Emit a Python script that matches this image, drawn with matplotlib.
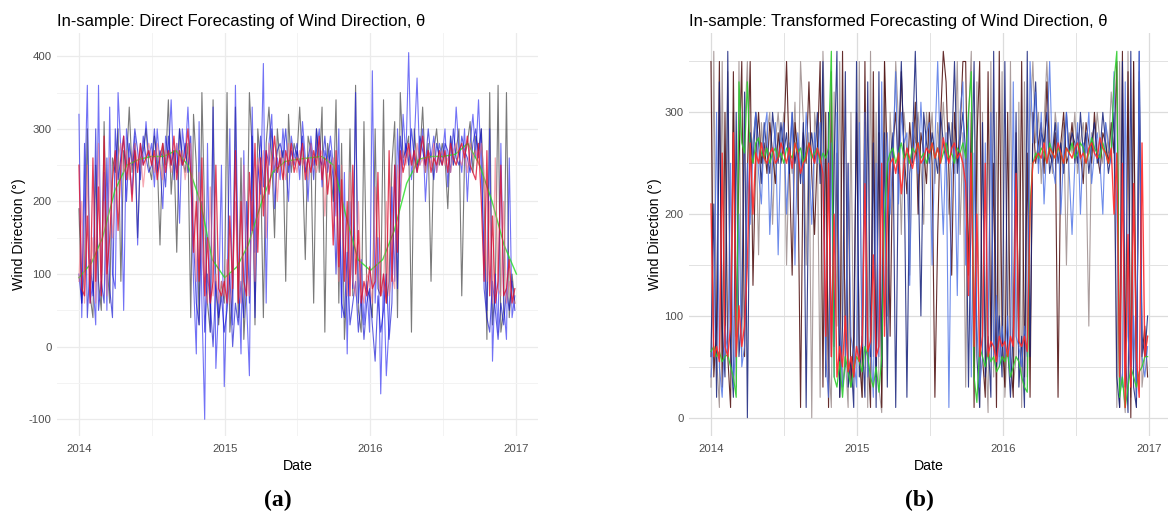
import pandas as pd
import matplotlib
matplotlib.use("Agg")
import matplotlib.pyplot as plt

plt.rcParams['font.family'] = ['Liberation Sans', 'DejaVu Sans']
plt.rcParams['axes.unicode_minus'] = False

## time index: weekly observations 2014-2016, monthly for the smooth seasonal curve
weeks = pd.date_range('2014-01-01', periods=157, freq='7D')
months = pd.date_range('2014-01-01', periods=37, freq='MS')
year_ticks = pd.to_datetime(['2014-01-01', '2015-01-01', '2016-01-01', '2017-01-01'])
year_labels = ['2014', '2015', '2016', '2017']
half_years = pd.to_datetime(['2014-07-02', '2015-07-02', '2016-07-02'])

## ---------------- panel (a): direct forecasting ----------------
obs_a = [190, 60, 110, 300, 70, 40, 250, 90, 50, 310, 120, 60, 260,
         240, 300, 90, 270, 250, 330, 240, 280, 150, 260, 270, 300, 250,
         230, 290, 260, 140, 280, 250, 340, 210, 270, 130, 300, 260, 240,
         280, 40, 320, 250, 30, 350, 180, 60, 20, 340, 80, 30, 90,
         60, 350, 20, 80, 330, 40, 260, 10, 90, 350, 270, 30, 300,
         250, 40, 280, 330, 260, 150, 300, 250, 270, 90, 320, 240, 280,
         260, 330, 250, 120, 290, 270, 60, 300, 240, 330, 20, 280, 250,
         200, 340, 60, 280, 10, 90, 300, 70, 360, 50, 20, 310, 80,
         70, 40, 300, 80, 70, 340, 60, 90, 250, 310, 40, 350, 260,
         270, 290, 20, 300, 250, 260, 330, 240, 280, 90, 270, 300, 250,
         280, 260, 190, 290, 250, 270, 300, 70, 260, 280, 310, 240, 290,
         270, 300, 210, 10, 350, 30, 80, 360, 20, 50, 350, 40, 100,
         60]

blue_a = [320, 40, 200, 360, 60, 90, 30, 360, 80, 240, 50, 330, 100,
          80, 350, 270, 50, 300, 260, 210, 290, 140, 280, 250, 310, 260,
          280, 220, 300, 250, 190, 290, 260, 340, 230, 280, 170, 300, 260,
          330, 240, 90, -10, 310, 60, -100, 280, 20, 330, -30, 60, 250,
          -55, 80, 300, 30, 360, 110, -10, 270, 60, -40, 330, 130, 250,
          210, 390, 60, 280, 320, 190, 260, 230, 300, 250, 200, 290, 260,
          280, 230, 310, 260, 200, 290, 250, 270, 300, 220, 270, 250, 290,
          250, 180, 300, 40, 240, -10, 200, 80, 350, 60, 120, 30, 90,
          20, 380, 60, 150, -65, 100, -40, 30, 220, 90, 300, 200, 320,
          260, 405, 230, 280, 370, 250, 300, 200, 270, 260, 290, 240, 280,
          260, 300, 220, 290, 250, 330, 270, 240, 300, 200, 280, 320, 260,
          340, 240, 130, 50, 300, -20, 100, 20, 280, 60, 10, 260, 40,
          70]

blue2_a = [100, 60, 280, 40, 120, 70, 300, 50, 90, 60, 260, 80, 40,
           300, 230, 260, 290, 200, 280, 250, 300, 270, 230, 290, 260, 240,
           250, 300, 240, 270, 260, 220, 290, 250, 270, 240, 300, 250, 280,
           240, 290, 150, 60, 30, 200, 20, 100, 60, 0, 90, 40, 70,
           20, 50, 100, 0, 60, 30, 90, 40, 200, 60, 290, 40, 230,
           290, 220, 270, 250, 300, 240, 270, 280, 260, 300, 240, 270, 250,
           270, 250, 290, 240, 260, 280, 230, 300, 260, 250, 290, 240, 270,
           230, 100, 250, 60, 40, 130, 30, 60, 90, 20, 70, 10, 60,
           80, 30, -20, 70, 20, 50, 100, 10, 60, 250, 80, 290, 250,
           280, 250, 300, 260, 240, 290, 270, 250, 300, 260, 230, 280, 260,
           250, 280, 270, 240, 300, 260, 250, 290, 270, 260, 240, 280, 300,
           260, 300, 80, 40, 20, 90, 50, 10, 60, 30, 80, 50, 90,
           50]

red_a = [250, 80, 70, 180, 60, 260, 90, 220, 70, 290, 100, 150, 230,
         270, 160, 250, 290, 230, 260, 200, 270, 240, 280, 250, 260, 270,
         250, 270, 230, 260, 280, 240, 270, 250, 290, 230, 270, 250, 260,
         300, 240, 130, 200, 90, 260, 70, 150, 60, 90, 250, 80, 70,
         90, 60, 180, 80, 270, 60, 200, 90, 70, 240, 160, 280, 130,
         260, 180, 270, 210, 250, 290, 240, 260, 230, 270, 250, 280, 240,
         260, 250, 280, 230, 260, 240, 270, 250, 290, 230, 260, 210, 250,
         140, 270, 110, 230, 90, 200, 70, 250, 100, 160, 60, 90, 70,
         110, 80, 90, 240, 70, 100, 60, 270, 90, 250, 130, 270, 240,
         260, 280, 250, 270, 240, 260, 290, 250, 270, 240, 260, 250, 270,
         250, 270, 240, 280, 260, 250, 270, 280, 260, 290, 250, 240, 230,
         280, 200, 90, 270, 70, 180, 60, 90, 250, 70, 80, 120, 60,
         80]

pink_a = [90, 200, 60, 250, 80, 150, 60, 280, 100, 200, 70, 260, 150,
          200, 260, 280, 240, 270, 230, 260, 280, 250, 270, 220, 260, 280,
          260, 240, 280, 250, 230, 270, 260, 240, 260, 280, 250, 270, 230,
          260, 280, 200, 90, 240, 130, 80, 60, 220, 70, 100, 60, 90,
          70, 120, 60, 90, 200, 80, 60, 250, 110, 70, 200, 90, 260,
          230, 270, 150, 280, 240, 260, 200, 270, 250, 230, 280, 250, 260,
          240, 270, 250, 260, 230, 280, 250, 240, 260, 270, 180, 260, 240,
          260, 200, 90, 250, 130, 70, 240, 90, 70, 200, 80, 60, 100,
          90, 60, 220, 100, 70, 80, 200, 70, 100, 80, 250, 200, 270,
          250, 270, 260, 240, 280, 250, 260, 240, 270, 250, 280, 240, 260,
          270, 250, 260, 240, 270, 280, 260, 250, 270, 240, 280, 260, 270,
          250, 280, 240, 90, 200, 60, 260, 80, 70, 200, 60, 90, 70,
          60]

green_a = [95, 115, 150, 215, 250, 258, 262, 262, 270, 250, 200, 120,
           95, 110, 140, 195, 240, 255, 258, 260, 262, 250, 180, 120,
           105, 120, 160, 225, 258, 262, 262, 265, 280, 250, 200, 140,
           100]

## ---------------- panel (b): transformed forecasting ----------------
obs_b = [350, 40, 90, 350, 30, 300, 60, 10, 340, 80, 250, 350, 60,
         240, 350, 130, 260, 300, 250, 270, 240, 290, 260, 230, 280, 250,
         270, 350, 250, 140, 290, 260, 10, 280, 250, 330, 240, 180, 260,
         350, 30, 300, 10, 340, 70, 260, 20, 360, 50, 250, 30, 80,
         300, 60, 20, 350, 70, 10, 340, 40, 280, 10, 350, 250, 80,
         270, 300, 240, 340, 260, 220, 290, 250, 310, 200, 280, 260, 230,
         300, 250, 20, 180, 290, 360, 330, 240, 140, 300, 250, 280, 350,
         350, 140, 300, 10, 270, 350, 60, 20, 340, 70, 250, 10, 360,
         80, 30, 300, 60, 20, 280, 70, 350, 40, 260, 20, 300, 250,
         270, 290, 240, 330, 260, 250, 280, 20, 270, 300, 250, 260, 290,
         250, 280, 260, 230, 290, 270, 250, 300, 260, 240, 280, 270, 250,
         290, 260, 350, 10, 360, 30, 340, 0, 350, 20, 330, 60, 90,
         40]

gray_b = [30, 360, 60, 10, 350, 80, 340, 50, 300, 30, 350, 60, 280,
          350, 200, 270, 300, 160, 290, 250, 280, 300, 190, 270, 300, 260,
          300, 150, 270, 240, 310, 200, 350, 290, 150, 280, 0, 300, 270,
          20, 360, 250, 60, 10, 320, 90, 350, 30, 60, 10, 300, 40,
          70, 350, 20, 290, 10, 360, 60, 300, 30, 5, 350, 100, 300,
          240, 350, 290, 180, 300, 260, 140, 290, 270, 300, 250, 190, 300,
          260, 300, 230, 290, 250, 310, 260, 200, 290, 240, 350, 180, 280,
          30, 290, 360, 50, 330, 10, 300, 80, 5, 350, 40, 300, 60,
          340, 20, 80, 350, 30, 60, 310, 10, 330, 40, 290, 350, 270,
          300, 230, 290, 350, 280, 240, 300, 270, 250, 290, 150, 280, 260,
          300, 240, 270, 290, 250, 90, 280, 260, 300, 270, 250, 290, 260,
          320, 280, 10, 350, 40, 5, 360, 20, 350, 10, 340, 30, 60,
          80]

navy_b = [60, 210, 20, 330, 90, 40, 360, 70, 20, 300, 60, 100, 320,
          0, 280, 250, 300, 270, 230, 290, 260, 240, 300, 270, 250, 290,
          260, 280, 240, 300, 250, 270, 230, 290, 10, 260, 280, 250, 300,
          230, 350, 40, 300, 60, 250, 360, 20, 90, 340, 30, 60, 10,
          350, 40, 80, 20, 330, 60, 270, 10, 340, 50, 280, 30, 250,
          280, 10, 260, 350, 250, 20, 240, 270, 360, 250, 100, 300, 270,
          250, 280, 260, 240, 300, 270, 250, 290, 260, 350, 240, 270, 300,
          260, 30, 220, 350, 60, 10, 290, 40, 80, 20, 360, 50, 100,
          40, 350, 70, 20, 90, 300, 30, 80, 10, 360, 60, 280, 330,
          250, 280, 270, 300, 240, 260, 290, 250, 270, 240, 300, 260, 280,
          270, 250, 300, 260, 280, 240, 270, 290, 250, 260, 300, 270, 240,
          260, 300, 40, 10, 350, 70, 5, 360, 30, 10, 360, 80, 60,
          100]

blue_b = [40, 80, 300, 50, 20, 90, 60, 250, 30, 80, 200, 50, 70,
          250, 190, 270, 300, 240, 210, 280, 300, 180, 250, 290, 160, 270,
          290, 200, 260, 300, 150, 280, 250, 230, 300, 260, 190, 280, 250,
          290, 230, 60, 20, 270, 40, 300, 90, 30, 50, 250, 80, 60,
          30, 290, 70, 300, 40, 80, 20, 250, 60, 330, 90, 280, 200,
          260, 340, 210, 300, 270, 280, 130, 290, 260, 240, 310, 250, 280,
          290, 150, 270, 350, 250, 180, 280, 10, 240, 270, 120, 300, 330,
          150, 300, 40, 260, 90, 30, 60, 270, 80, 300, 60, 120, 50,
          90, 60, 100, 40, 330, 80, 70, 50, 90, 60, 350, 270, 320,
          240, 300, 210, 270, 350, 250, 230, 290, 200, 260, 300, 240, 180,
          250, 290, 200, 270, 260, 300, 230, 260, 280, 250, 200, 290, 270,
          250, 340, 200, 50, 30, 330, 80, 40, 100, 20, 360, 60, 40,
          70]

red_b = [210, 60, 70, 55, 260, 70, 60, 90, 280, 60, 110, 70, 90,
         150, 270, 200, 260, 250, 270, 255, 250, 260, 265, 250, 255, 270,
         260, 250, 265, 245, 270, 260, 240, 250, 255, 270, 260, 250, 265,
         255, 240, 80, 250, 60, 200, 40, 70, 50, 100, 45, 60, 40,
         70, 55, 75, 230, 65, 75, 160, 60, 70, 250, 80, 200, 250,
         255, 240, 260, 220, 250, 265, 255, 245, 260, 270, 250, 255, 265,
         260, 270, 255, 265, 250, 275, 260, 250, 265, 270, 255, 260, 250,
         230, 120, 260, 70, 200, 60, 80, 250, 60, 75, 70, 55, 80,
         70, 75, 60, 80, 70, 240, 75, 70, 80, 65, 200, 250, 255,
         260, 255, 270, 250, 265, 260, 255, 270, 260, 250, 265, 260, 255,
         265, 270, 255, 260, 250, 265, 270, 260, 255, 275, 265, 260, 250,
         265, 200, 260, 40, 250, 10, 180, 30, 230, 60, 20, 270, 60,
         80]

green_b = [65, 70, 60, 65, 55, 60, 62, 50, 40, 20, 330, 270, 260,
           330, 260, 250, 270, 275, 260, 255, 265, 250, 260, 265, 255, 260,
           250, 265, 260, 255, 270, 260, 265, 250, 260, 270, 255, 260, 265,
           250, 260, 255, 265, 360, 40, 30, 55, 20, 60, 45, 30, 50,
           60, 55, 45, 70, 60, 40, 30, 50, 25, 60, 200, 250, 260,
           265, 250, 260, 270, 255, 260, 250, 265, 260, 270, 255, 260, 250,
           260, 270, 255, 265, 250, 260, 270, 255, 260, 250, 265, 260, 270,
           255, 300, 340, 40, 15, 70, 60, 50, 65, 55, 60, 45, 50,
           60, 55, 65, 40, 50, 60, 55, 40, 30, 25, 210, 250, 260,
           255, 265, 260, 250, 270, 260, 255, 265, 260, 250, 265, 260, 270,
           255, 260, 270, 265, 250, 260, 275, 265, 260, 255, 270, 260, 250,
           260, 330, 360, 20, 40, 10, 30, 50, 40, 30, 45, 50, 60,
           60]


def style_panel(ax, title, ylim, major_y, minor_y, xlim, grid_col, minor_col):
    """ggplot theme_minimal look: no spines, no ticks, light major+minor grid."""
    ax.set_xlim(xlim)
    ax.set_ylim(ylim)
    ax.set_xticks(year_ticks)
    ax.set_xticklabels(year_labels)
    ax.set_xticks(half_years, minor=True)
    ax.set_yticks(major_y)
    ax.set_yticks(minor_y, minor=True)
    ax.grid(True, which='major', color=grid_col, linewidth=0.9, zorder=0)
    ax.grid(True, which='minor', color=minor_col, linewidth=0.7, zorder=0)
    ax.set_axisbelow(True)
    for s in ax.spines.values():
        s.set_visible(False)
    ax.tick_params(which='both', length=0)
    ax.tick_params(axis='x', labelsize=8.2, labelcolor='#4d4d4d', pad=6)
    ax.tick_params(axis='y', labelsize=8.2, labelcolor='#4d4d4d', pad=4)
    ax.set_title(title, loc='left', fontsize=12, pad=5)
    ax.set_xlabel('Date', fontsize=10.2, labelpad=3)
    ax.set_ylabel('Wind Direction (°)', fontsize=10.2, labelpad=2)


fig = plt.figure(figsize=(11.68, 5.24), dpi=100)

## (a)
ax_a = fig.add_axes([57/1168, 88/524, 481/1168, 403/524])
ax_a.plot(weeks, obs_a, color='#333333', alpha=0.65, lw=0.8)
ax_a.plot(weeks, blue_a, color='#1515f0', alpha=0.6, lw=0.8)
ax_a.plot(weeks, blue2_a, color='#0a0ad0', alpha=0.65, lw=0.8)
ax_a.plot(months, green_a, color='#22dd22', alpha=0.8, lw=1.0)
ax_a.plot(weeks, pink_a, color='#f07080', alpha=0.6, lw=0.9)
ax_a.plot(weeks, red_a, color='#dc1030', alpha=0.8, lw=0.9)
style_panel(ax_a, 'In-sample: Direct Forecasting of Wind Direction, θ',
            (-123, 432), range(-100, 401, 100), range(-50, 351, 100),
            (pd.Timestamp('2013-11-07'), pd.Timestamp('2017-02-24')),
            '#ebebeb', '#f3f3f3')

## (b)
ax_b = fig.add_axes([689/1168, 88/524, 479/1168, 403/524])
ax_b.plot(weeks, gray_b, color='#9c8c8c', alpha=0.85, lw=0.8)
ax_b.plot(weeks, obs_b, color='#4a0808', alpha=0.85, lw=0.8)
ax_b.plot(weeks, navy_b, color='#14207a', alpha=0.85, lw=0.8)
ax_b.plot(weeks, blue_b, color='#4a70e6', alpha=0.8, lw=0.8)
ax_b.plot(weeks, green_b, color='#2ecc2e', alpha=0.9, lw=0.9)
ax_b.plot(weeks, red_b, color='#ff2a2a', alpha=0.9, lw=1.0)
style_panel(ax_b, 'In-sample: Transformed Forecasting of Wind Direction, θ',
            (-18, 378), range(0, 301, 100), range(50, 351, 100),
            (pd.Timestamp('2013-11-07'), pd.Timestamp('2017-02-17')),
            '#dcdcdc', '#e2e2e2')

## sub-figure captions
fig.text(278/1168, 1 - 500/524, '(a)', ha='center', va='center',
         fontsize=17, fontweight='bold', family='Liberation Serif')
fig.text(919/1168, 1 - 500/524, '(b)', ha='center', va='center',
         fontsize=17, fontweight='bold', family='Liberation Serif')

fig.savefig('out.png', dpi=100)
